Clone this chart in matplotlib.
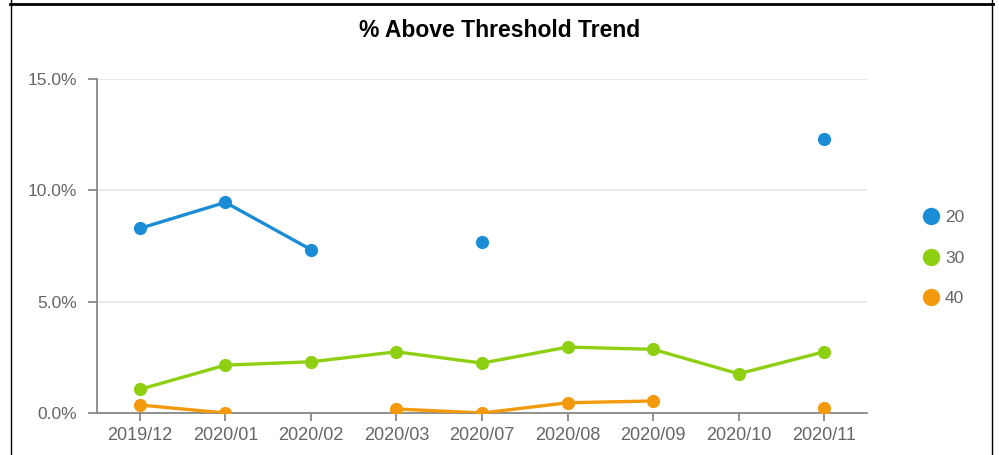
import numpy as np
import matplotlib
matplotlib.use("Agg")
import matplotlib.pyplot as plt
from matplotlib.lines import Line2D

plt.rcParams['font.family'] = ['Liberation Sans', 'DejaVu Sans']

months = ["2019/12", "2020/01", "2020/02", "2020/03", "2020/07",
          "2020/08", "2020/09", "2020/10", "2020/11"]
nan = np.nan
s20 = [8.29, 9.46, 7.34, nan, 7.70, nan, nan, nan, 12.30]
s30 = [1.06, 2.15, 2.30, 2.75, 2.24, 2.96, 2.86, 1.76, 2.75]
s40 = [0.36, 0.0, nan, 0.18, 0.0, 0.46, 0.54, nan, 0.24]
series = {"20": s20, "30": s30, "40": s40}
colors = {"20": "#1a8dd6", "30": "#8fcf12", "40": "#f29a0c"}
yticks = [0, 5, 10, 15]

W, H = 999, 455
fig = plt.figure(figsize=(W / 100, H / 100), dpi=100)
ax = fig.add_axes([97 / W, (H - 413) / H, (867 - 97) / W, (413 - 79) / H])

x = np.arange(len(months))
for name, vals in series.items():
    ax.plot(x, vals, color=colors[name], lw=2.4, marker="o", ms=9.5,
            markeredgewidth=0, solid_capstyle="round", label=name, zorder=3)

ax.set_xlim(-0.5, len(months) - 0.5)
ax.set_ylim(0, 15)
ax.set_xticks(x)
ax.set_xticklabels(months)
ax.set_yticks(yticks)
ax.set_yticklabels(["%.1f%%" % v for v in yticks])
ax.yaxis.grid(True, color="#e6e6e6", lw=1.2)
ax.set_axisbelow(True)

for side in ["top", "right"]:
    ax.spines[side].set_visible(False)
for side in ["left", "bottom"]:
    ax.spines[side].set_color("#888888")
    ax.spines[side].set_linewidth(1.3)
ax.tick_params(axis="y", length=6.5, width=1.3, color="#888888", pad=8,
               labelsize=12.5, labelcolor="#666666")
ax.tick_params(axis="x", length=6, width=1.3, color="#888888", pad=4,
               labelsize=13, labelcolor="#666666")

fig.text(499.5 / W, 1 - 30.5 / H, "% Above Threshold Trend", ha="center",
         va="center", fontsize=16.5, fontweight="bold", color="#000000")

handles = [Line2D([], [], ls="none", marker="o", ms=12.5, markeredgewidth=0,
                  color=colors[n]) for n in series]
fig.legend(handles, list(series.keys()), loc="center left",
           bbox_to_anchor=(905 / W, 1 - 258 / H), frameon=False,
           fontsize=12.5, labelspacing=1.45, handletextpad=0.2,
           handlelength=1.2, labelcolor="#666666")

# outer frame
fig.add_artist(Line2D([10 / W, 993 / W], [1 - 3.5 / H, 1 - 3.5 / H],
                      transform=fig.transFigure, color="black", lw=2))
fig.add_artist(Line2D([10.5 / W, 10.5 / W], [0, 1],
                      transform=fig.transFigure, color="black", lw=1))
fig.add_artist(Line2D([991.5 / W, 991.5 / W], [0, 1],
                      transform=fig.transFigure, color="black", lw=1))

fig.savefig("out.png", dpi=100)
